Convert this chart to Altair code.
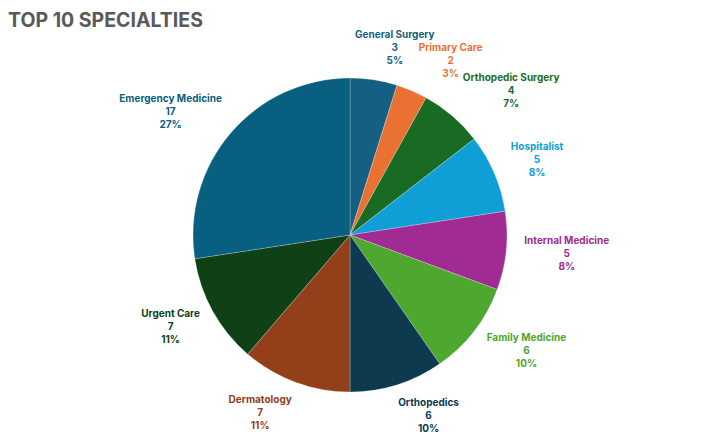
import altair as alt
import pandas as pd
import numpy as np

categories = ["General Surgery", "Primary Care", "Orthopedic Surgery", "Hospitalist",
              "Internal Medicine", "Family Medicine", "Orthopedics", "Dermatology",
              "Urgent Care", "Emergency Medicine"]
counts = [3, 2, 4, 5, 5, 6, 6, 7, 7, 17]
percents = ["5%", "3%", "7%", "8%", "8%", "10%", "10%", "11%", "11%", "27%"]
colors = ["#156082", "#E97132", "#196B24", "#0F9ED5", "#A02B93",
          "#4EA72E", "#0D3A4F", "#93401A", "#0F4016", "#095F80"]

OUTER_R = 157
LABEL_GAP = 170      # distance from centre to the label anchor point
CHAR_W = 5.6         # approx width of one bold 10px character
BLOCK_H = 39         # three lines of 13px

df = pd.DataFrame({
    "cat": categories,
    "count": counts,
    "pct": percents,
    "idx": list(range(len(categories))),
})
df["label"] = df["cat"] + "\n" + df["count"].astype(str) + "\n" + df["pct"]
total = int(df["count"].sum())

# Excel-like "outside end" placement: label box is pushed outward from an
# anchor point just beyond the pie edge, horizontally by its half width and
# vertically by its half height.
mid = np.cumsum(df["count"]) - df["count"] / 2
ang = mid / total * 2 * np.pi
s, c = np.sin(ang), np.cos(ang)
half_w = df["cat"].str.len() * CHAR_W / 2
px = LABEL_GAP * s + np.sign(s) * np.minimum(1, 3 * np.abs(s)) * half_w
py = LABEL_GAP * c + c * BLOCK_H / 2          # upward component
phi = np.mod(np.arctan2(px, py), 2 * np.pi)
df["lab_theta"] = phi / (2 * np.pi) * total
df["lab_r"] = np.hypot(px, py)

theta_scale = alt.Scale(domain=[0, total], range=[0, 2 * np.pi])
color = alt.Color("cat:N", scale=alt.Scale(domain=categories, range=colors), legend=None)

pie = alt.Chart(df).mark_arc(
    outerRadius=OUTER_R, stroke="#ffffff", strokeWidth=0.4, strokeOpacity=0.6
).encode(
    theta=alt.Theta("count:Q", stack=True, scale=theta_scale),
    order=alt.Order("idx:Q"),
    color=color,
)

labels = alt.Chart(df).mark_text(
    font="Inter", fontWeight="bold", fontSize=10,
    lineBreak="\n", lineHeight=13, align="center", baseline="middle", dy=-13,
).encode(
    theta=alt.Theta("lab_theta:Q", stack=None, scale=theta_scale),
    radius=alt.Radius("lab_r:Q", scale=None),
    text="label:N",
    color=color,
)

chart = (pie + labels).properties(
    width=684, height=394,
    title=alt.TitleParams("TOP 10 SPECIALTIES", anchor="start", font="Inter",
                          fontSize=19.5, fontWeight="bold", color="#595959",
                          offset=-2),
    autosize=alt.AutoSizeParams(type="none"),
    padding={"left": 0, "top": 30, "right": 0, "bottom": 0},
).configure_view(stroke=None)

chart.save("out.html", embed_options={"renderer": "svg", "actions": False})
